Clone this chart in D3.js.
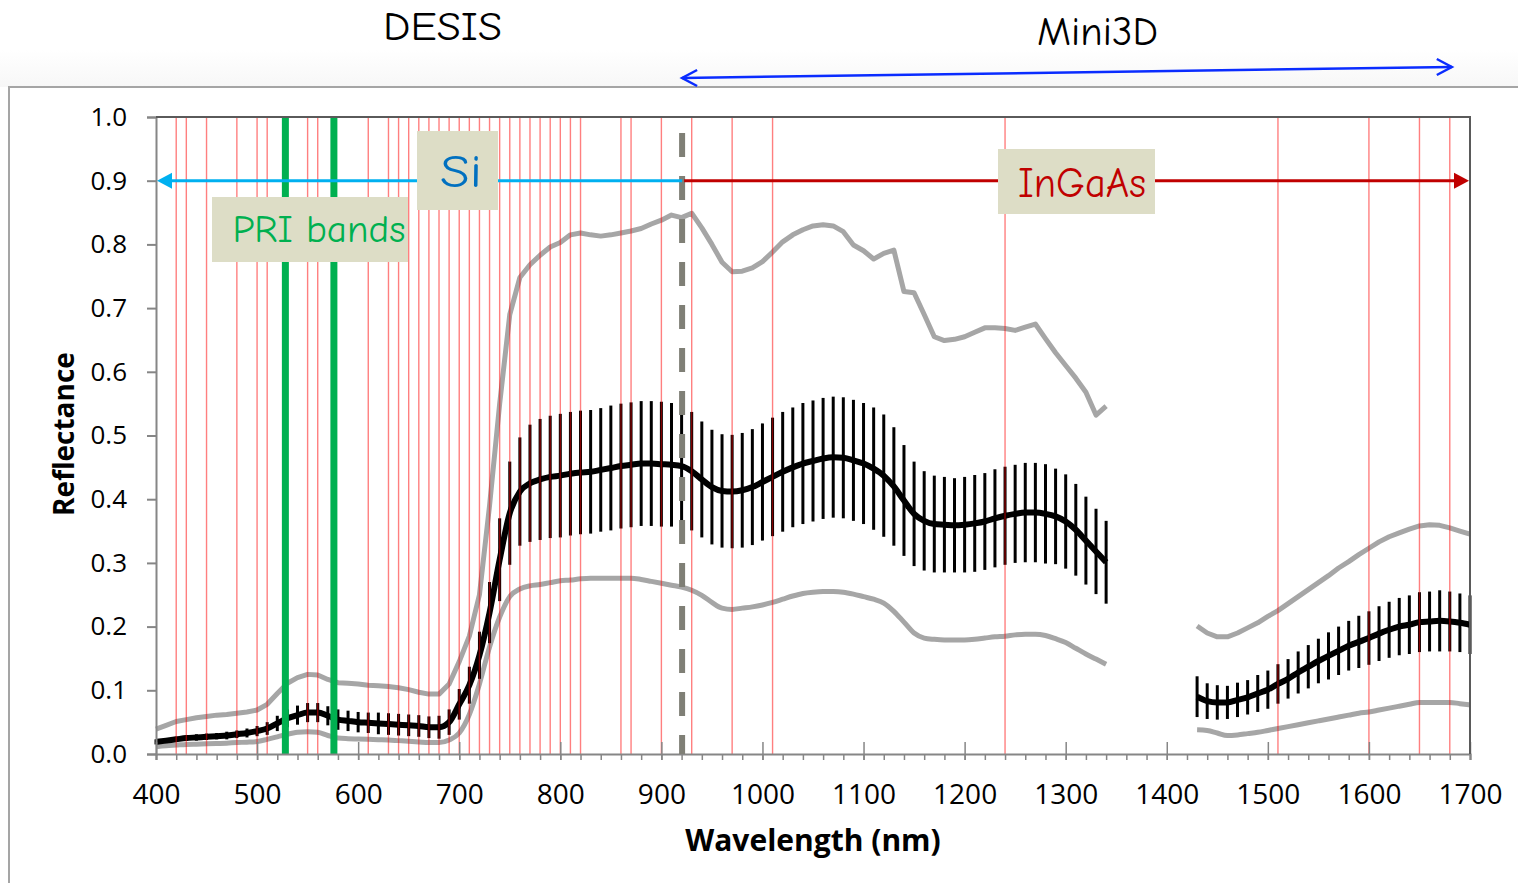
<!DOCTYPE html>
<html><head><meta charset="utf-8">
<script src="https://cdn.jsdelivr.net/npm/d3@7"></script>
<style>body{margin:0;background:#fff}svg{display:block}</style>
</head><body><svg id="c" width="1518" height="883"></svg>
<script>
// ---------- DATA ----------
const wl1 = d3.range(400, 1341, 10);   // wavelength grid, first segment (nm)
const wl2 = d3.range(1430, 1701, 10);  // wavelength grid, second segment (nm)

const mean1 = [0.019,0.021,0.023,0.025,0.026,0.027,0.028,0.029,0.031,0.033,
0.036,0.040,0.048,0.056,0.061,0.065,0.065,0.060,0.054,0.052,
0.050,0.049,0.048,0.047,0.046,0.045,0.044,0.042,0.042,0.050,
0.078,0.108,0.155,0.222,0.305,0.378,0.412,0.425,0.431,0.435,
0.437,0.440,0.442,0.443,0.446,0.449,0.452,0.454,0.456,0.456,
0.455,0.454,0.452,0.444,0.431,0.419,0.413,0.412,0.414,0.419,
0.427,0.435,0.443,0.450,0.456,0.460,0.464,0.466,0.465,0.461,
0.456,0.448,0.437,0.420,0.398,0.377,0.366,0.361,0.360,0.359,
0.360,0.362,0.365,0.370,0.374,0.377,0.379,0.379,0.377,0.373,
0.365,0.352,0.335,0.318,0.301];
const sd1 = [0.004,0.004,0.004,0.004,0.005,0.005,0.005,0.006,0.006,0.007,
0.008,0.010,0.012,0.014,0.015,0.015,0.015,0.015,0.016,0.016,
0.016,0.016,0.017,0.017,0.017,0.017,0.017,0.017,0.018,0.020,
0.024,0.029,0.037,0.048,0.065,0.081,0.085,0.092,0.095,0.096,
0.097,0.097,0.097,0.097,0.097,0.098,0.098,0.098,0.098,0.098,
0.098,0.097,0.095,0.093,0.091,0.090,0.089,0.089,0.090,0.091,
0.092,0.093,0.094,0.094,0.095,0.095,0.095,0.095,0.095,0.095,
0.095,0.096,0.096,0.093,0.087,0.082,0.078,0.076,0.075,0.074,
0.075,0.076,0.076,0.077,0.077,0.077,0.078,0.078,0.078,0.075,
0.074,0.072,0.069,0.067,0.065];
const upper1 = [0.039,0.045,0.051,0.054,0.057,0.059,0.061,0.062,0.064,0.066,
0.069,0.078,0.095,0.111,0.120,0.125,0.124,0.117,0.112,0.111,
0.110,0.108,0.107,0.106,0.104,0.101,0.097,0.094,0.094,0.110,
0.145,0.185,0.250,0.390,0.550,0.690,0.748,0.768,0.783,0.796,
0.803,0.815,0.818,0.815,0.813,0.815,0.818,0.821,0.825,0.832,
0.838,0.846,0.842,0.849,0.826,0.800,0.772,0.757,0.758,0.763,
0.773,0.788,0.804,0.815,0.823,0.829,0.831,0.829,0.820,0.799,
0.790,0.777,0.786,0.791,0.726,0.724,0.690,0.655,0.649,0.651,
0.655,0.662,0.669,0.669,0.668,0.665,0.670,0.675,0.652,0.630,
0.610,0.590,0.568,0.532,0.546];
const lower1 = [0.0115,0.013,0.014,0.015,0.0155,0.016,0.0165,0.017,0.018,0.0185,
0.0195,0.023,0.027,0.031,0.034,0.035,0.034,0.029,0.025,0.024,
0.0235,0.023,0.0225,0.022,0.021,0.020,0.019,0.018,0.018,0.022,
0.033,0.062,0.110,0.168,0.215,0.247,0.259,0.264,0.266,0.269,
0.272,0.273,0.275,0.276,0.276,0.276,0.276,0.276,0.274,0.271,
0.268,0.265,0.262,0.257,0.249,0.238,0.229,0.227,0.229,0.231,
0.234,0.238,0.243,0.248,0.252,0.254,0.255,0.255,0.254,0.251,
0.247,0.243,0.237,0.224,0.207,0.190,0.182,0.180,0.179,0.179,
0.179,0.180,0.182,0.184,0.185,0.187,0.188,0.188,0.186,0.181,
0.175,0.166,0.157,0.149,0.141];

const mean2 = [0.090,0.083,0.081,0.081,0.085,0.089,0.095,0.101,0.110,0.118,
0.128,0.137,0.146,0.154,0.162,0.170,0.176,0.182,0.189,0.195,
0.200,0.203,0.207,0.208,0.209,0.208,0.206,0.203];
const sd2 = [0.032,0.028,0.027,0.026,0.027,0.027,0.029,0.030,0.031,0.031,
0.033,0.034,0.035,0.037,0.038,0.039,0.041,0.042,0.043,0.044,
0.045,0.046,0.047,0.047,0.048,0.047,0.046,0.046];
const upper2 = [0.201,0.190,0.184,0.184,0.190,0.198,0.206,0.216,0.225,0.236,
0.247,0.258,0.269,0.280,0.292,0.302,0.313,0.323,0.333,0.341,
0.347,0.353,0.358,0.360,0.359,0.355,0.350,0.345];
const lower2 = [0.038,0.037,0.033,0.029,0.030,0.032,0.034,0.037,0.040,0.043,
0.046,0.049,0.052,0.055,0.058,0.061,0.064,0.066,0.069,0.072,
0.075,0.078,0.081,0.081,0.081,0.081,0.079,0.077];

const desisBands = [420,430,450,480,500,510,550,560,610,630,640,650,660,670,680,690,700,
710,720,730,740,750,760,770,780,790,800,810,820,860,870,900,930,970,1010,1240,1510,1600,1650,1680];
const priBands = [528, 576];
const sensorSplit = 920.5;
const yTicks = [0,0.1,0.2,0.3,0.4,0.5,0.6,0.7,0.8,0.9,1.0];
const xMajor = [400,500,600,700,800,900,1000,1100,1200,1300,1400,1500,1600,1700];
const xMinor = d3.range(400, 1701, 20);
const siLevel = 0.9;

// ---------- CHART ----------
const svg = d3.select("#c");
const x = d3.scaleLinear().domain([400,1700]).range([156,1470]);
const y = d3.scaleLinear().domain([0,1]).range([754,117]);

const defs = svg.append("defs");
const g1 = defs.append("linearGradient").attr("id","bg").attr("x1",0).attr("y1",0).attr("x2",0).attr("y2",1);
g1.append("stop").attr("offset","0").attr("stop-color","#ffffff");
g1.append("stop").attr("offset","1").attr("stop-color","#f7f7f7");
svg.append("rect").attr("x",0).attr("y",50).attr("width",1518).attr("height",37).attr("fill","url(#bg)");

// outer frame
svg.append("path").attr("d","M9,883 V87 H1518").attr("fill","none").attr("stroke","#a5a5a5").attr("stroke-width",2);

const comic = "'Comic Sans MS','Comic Neue',Lato,sans-serif";
const axisFont = "'Open Sans',Lato,sans-serif";

// data
const seg1 = wl1.map((w,i)=>({w, m:mean1[i], s:sd1[i], u:upper1[i], l:lower1[i]}));
const seg2 = wl2.map((w,i)=>({w, m:mean2[i], s:sd2[i], u:upper2[i], l:lower2[i]}));
const segs = [seg1, seg2];

const grayLineU = d3.line().x(d=>x(d.w)).y(d=>y(d.u));
const grayLineL = d3.line().x(d=>x(d.w)).y(d=>y(d.l)).curve(d3.curveMonotoneX);
const meanLine = d3.line().x(d=>x(d.w)).y(d=>y(d.m)).curve(d3.curveMonotoneX);

const dataG = svg.append("g");
segs.forEach(s=>{
  dataG.append("path").attr("d",grayLineU(s)).attr("fill","none").attr("stroke","#a6a6a6").attr("stroke-width",5).attr("stroke-linejoin","round");
  dataG.append("path").attr("d",grayLineL(s)).attr("fill","none").attr("stroke","#a6a6a6").attr("stroke-width",5).attr("stroke-linejoin","round");
});
segs.forEach(s=>{
  dataG.selectAll(null).data(s).enter().append("line")
    .attr("x1",d=>x(d.w)).attr("x2",d=>x(d.w))
    .attr("y1",d=>y(d.m+d.s)).attr("y2",d=>y(d.m-d.s))
    .attr("stroke","#000").attr("stroke-width",3);
});
segs.forEach(s=>{
  dataG.append("path").attr("d",meanLine(s)).attr("fill","none").attr("stroke","#000").attr("stroke-width",6).attr("stroke-linejoin","round");
});

// band lines
svg.append("g").selectAll("line").data(desisBands).enter().append("line")
  .attr("x1",d=>x(d)).attr("x2",d=>x(d)).attr("y1",y(1)).attr("y2",y(0))
  .attr("stroke","#ff0000").attr("stroke-opacity",0.5).attr("stroke-width",1.4);
svg.append("g").selectAll("line").data(priBands).enter().append("line")
  .attr("x1",d=>x(d)).attr("x2",d=>x(d)).attr("y1",y(1)).attr("y2",y(0))
  .attr("stroke","#00b050").attr("stroke-width",7);

// axes
const yAxis = d3.axisLeft(y).tickValues(yTicks).tickSize(9).tickPadding(20).tickFormat(d3.format(".1f"));
const yg = svg.append("g").attr("transform","translate(156,0)").call(yAxis);
yg.select(".domain").attr("stroke","#868686").attr("stroke-width",2);
yg.selectAll(".tick line").attr("stroke","#868686").attr("stroke-width",2);
yg.selectAll("text").attr("font-family",axisFont).attr("font-size",26).attr("fill","#000");

const xMinorAxis = d3.axisBottom(x).tickValues(xMinor).tickSize(6).tickFormat("");
const xmg = svg.append("g").attr("transform","translate(0,754)").call(xMinorAxis);
xmg.select(".domain").attr("stroke","#868686").attr("stroke-width",2);
xmg.selectAll(".tick line").attr("stroke","#868686").attr("stroke-width",1.5);

const xAxis = d3.axisBottom(x).tickValues(xMajor).tickSize(6).tickPadding(24).tickFormat(d3.format("d"));
const xg = svg.append("g").attr("transform","translate(0,754)").call(xAxis);
xg.select(".domain").remove();
xg.selectAll(".tick line").attr("y1",-12).attr("stroke","#868686").attr("stroke-width",1.5);
xg.selectAll("text").attr("font-family",axisFont).attr("font-size",28).attr("fill","#000");

// top/right border
svg.append("path").attr("d",`M${x(400)},${y(1)} H${x(1700)} V${y(0)}`).attr("fill","none").attr("stroke","#5a5a5a").attr("stroke-width",2);

// dashed sensor split
svg.append("line").attr("x1",x(sensorSplit)).attr("x2",x(sensorSplit)).attr("y1",133).attr("y2",y(0))
  .attr("stroke","#7f7f76").attr("stroke-width",6).attr("stroke-dasharray","24,19");

// Si arrow
const ySi = y(siLevel);
svg.append("line").attr("x1",x(sensorSplit)).attr("x2",x(400)+12).attr("y1",ySi).attr("y2",ySi).attr("stroke","#00b0f0").attr("stroke-width",3);
svg.append("path").attr("d",`M${x(400)+1},${ySi} L${x(400)+16},${ySi-8} L${x(400)+16},${ySi+8} Z`).attr("fill","#00b0f0");
// InGaAs arrow
svg.append("line").attr("x1",x(sensorSplit)+2).attr("x2",x(1700)-12).attr("y1",ySi).attr("y2",ySi).attr("stroke","#c00000").attr("stroke-width",3);
svg.append("path").attr("d",`M${x(1700)-1},${ySi} L${x(1700)-16},${ySi-8} L${x(1700)-16},${ySi+8} Z`).attr("fill","#c00000");

// label boxes
function box(x0,y0,w,h){ svg.append("rect").attr("x",x0).attr("y",y0).attr("width",w).attr("height",h).attr("fill","#ddddc6"); }
box(417,131,81,79);
box(212,197,196,65);
box(998,149,157,65);
function label(t,cx,base,size,len,col){
  svg.append("text").attr("x",cx).attr("y",base).attr("text-anchor","middle").attr("font-family",comic)
   .attr("font-size",size).attr("fill",col).attr("textLength",len).attr("lengthAdjust","spacingAndGlyphs").text(t);
}
label("Si",461,187,46,42,"#0070c0");
label("PRI bands",319,242,38,173,"#00b050");
label("InGaAs",1082,197,42,128,"#c00000");
label("DESIS",442.5,40,41,119,"#000");
label("Mini3D",1097.5,45,41,121,"#000");

// Mini3D double arrow
const ax1 = x(sensorSplit), ax2 = x(1682), ay1 = 78, ay2 = 67;
svg.append("line").attr("x1",ax1).attr("y1",ay1).attr("x2",ax2).attr("y2",ay2).attr("stroke","#0a2cff").attr("stroke-width",2.5);
svg.append("path").attr("d",`M${ax1+15},${ay1-8} L${ax1},${ay1} L${ax1+15},${ay1+8}`).attr("fill","none").attr("stroke","#0a2cff").attr("stroke-width",2.5);
svg.append("path").attr("d",`M${ax2-15},${ay2-8} L${ax2},${ay2} L${ax2-15},${ay2+8}`).attr("fill","none").attr("stroke","#0a2cff").attr("stroke-width",2.5);

// axis titles
svg.append("text").attr("x",813).attr("y",851).attr("text-anchor","middle").attr("font-family",axisFont)
  .attr("font-weight","bold").attr("font-size",30).text("Wavelength (nm)");
svg.append("text").attr("transform","translate(74,434) rotate(-90)").attr("text-anchor","middle").attr("font-family",axisFont)
  .attr("font-weight","bold").attr("font-size",28).text("Reflectance");
</script></body></html>
